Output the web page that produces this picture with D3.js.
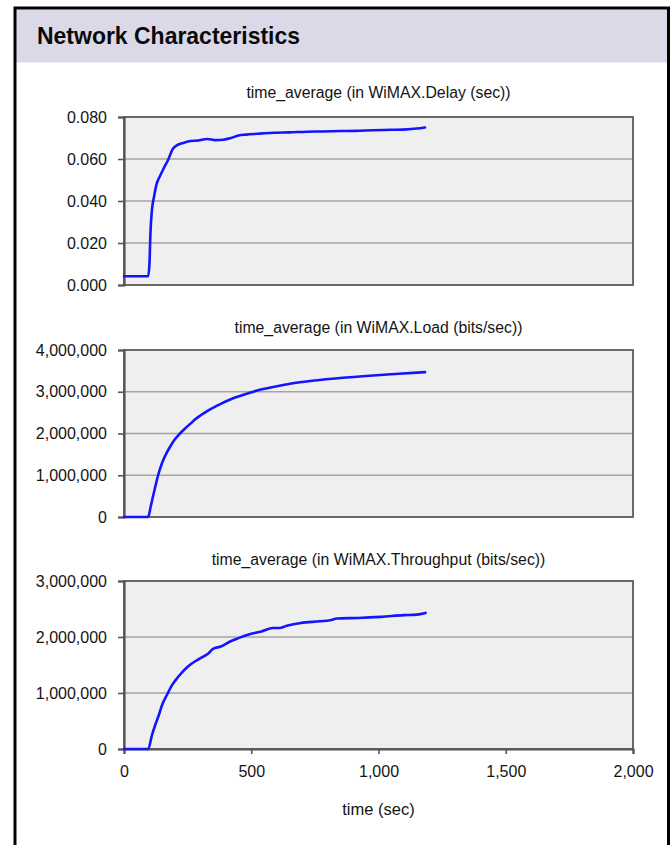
<!DOCTYPE html>
<html>
<head>
<meta charset="utf-8">
<script src="https://cdn.jsdelivr.net/npm/d3@7"></script>
<style>
  html, body { margin: 0; padding: 0; background: #ffffff; }
  svg { display: block; }
</style>
</head>
<body>
<svg id="chart" width="671" height="845"></svg>
<script>
// Simulation time axis (seconds)
const timeTicks = [0, 500, 1000, 1500, 2000];

// WiMAX delay, time-averaged (sec) : [time, value]
const delaySeries = [
  [0, 0.0042], [95, 0.0042], [100, 0.010], [104, 0.025], [110, 0.036],
  [118, 0.042], [128, 0.048], [142, 0.052], [158, 0.056], [175, 0.060],
  [190, 0.0645], [205, 0.0663], [232, 0.0676], [262, 0.0686], [292, 0.0688],
  [326, 0.0695], [360, 0.0690], [390, 0.0692], [420, 0.0700], [450, 0.0712],
  [480, 0.0716], [523, 0.0720], [585, 0.0725], [650, 0.0727], [719, 0.0730],
  [780, 0.0731], [849, 0.0733], [910, 0.0734], [978, 0.0737], [1050, 0.0739],
  [1112, 0.0741], [1150, 0.0745], [1183, 0.0750]
];
const delayTicks = [0, 0.02, 0.04, 0.06, 0.08];

// WiMAX load, time-averaged (bits/sec)
const loadSeries = [
  [0, 0], [95, 0], [105, 250000], [115, 520000], [125, 780000], [134, 1000000],
  [150, 1300000], [168, 1540000], [180, 1670000], [200, 1860000], [220, 2000000],
  [240, 2120000], [260, 2230000], [280, 2340000], [300, 2430000], [330, 2550000],
  [364, 2660000], [420, 2820000], [482, 2950000], [523, 3030000], [600, 3130000],
  [652, 3190000], [750, 3270000], [849, 3330000], [978, 3390000], [1080, 3430000],
  [1183, 3470000]
];
const loadTicks = [0, 1000000, 2000000, 3000000, 4000000];

// WiMAX throughput, time-averaged (bits/sec)
const throughputSeries = [
  [0, 0], [95, 0], [110, 250000], [122, 420000], [135, 580000], [150, 790000],
  [168, 960000], [190, 1150000], [213, 1290000], [250, 1470000], [299, 1620000],
  [330, 1700000], [350, 1790000], [380, 1830000], [417, 1920000], [450, 1980000],
  [487, 2040000], [540, 2100000], [585, 2160000], [610, 2160000], [640, 2200000],
  [695, 2250000], [770, 2280000], [810, 2300000], [837, 2330000], [920, 2340000],
  [1010, 2360000], [1100, 2390000], [1150, 2400000], [1185, 2430000]
];
const throughputTicks = [0, 1000000, 2000000, 3000000];

const panelTitles = [
  "time_average (in WiMAX.Delay (sec))",
  "time_average (in WiMAX.Load (bits/sec))",
  "time_average (in WiMAX.Throughput (bits/sec))"
];
const headerTitle = "Network Characteristics";
const xAxisTitle = "time (sec)";

const svg = d3.select("#chart");

// Outer frame and header band
svg.append("rect").attr("x", 15).attr("y", 9.5).attr("width", 652.5).attr("height", 53)
  .attr("fill", "#dbd9e8");
svg.append("path")
  .attr("d", "M15,850 L15,8 L668.5,8 L668.5,850")
  .attr("fill", "none").attr("stroke", "#000").attr("stroke-width", 3);
svg.append("text")
  .attr("x", 37).attr("y", 44)
  .attr("font-family", "'Liberation Sans', Arial, sans-serif")
  .attr("font-weight", "bold").attr("font-size", 24)
  .attr("textLength", 263).attr("lengthAdjust", "spacingAndGlyphs")
  .attr("fill", "#0a0a0a")
  .text(headerTitle);

const x = d3.scaleLinear().domain([0, 2000]).range([124, 633]);

const panels = [
  { series: delaySeries, ticks: delayTicks, fmt: d3.format(".3f"), max: 0.08, top: 117, bottom: 285, title: panelTitles[0], titleY: 98 },
  { series: loadSeries, ticks: loadTicks, fmt: d3.format(","), max: 4000000, top: 350, bottom: 517, title: panelTitles[1], titleY: 333 },
  { series: throughputSeries, ticks: throughputTicks, fmt: d3.format(","), max: 3000000, top: 581, bottom: 749, title: panelTitles[2], titleY: 565 }
];

const tickFont = "'Liberation Sans', Arial, sans-serif";
const textColor = "#141414";

panels.forEach((p, i) => {
  const y = d3.scaleLinear().domain([0, p.max]).range([p.bottom, p.top]);
  const g = svg.append("g");

  // plot background
  g.append("rect").attr("x", x.range()[0]).attr("y", p.top)
    .attr("width", x.range()[1] - x.range()[0]).attr("height", p.bottom - p.top)
    .attr("fill", "#efefef");

  // horizontal gridlines
  g.selectAll("line.grid").data(p.ticks.slice(1, -1)).join("line")
    .attr("x1", x.range()[0]).attr("x2", x.range()[1])
    .attr("y1", d => y(d)).attr("y2", d => y(d))
    .attr("stroke", "#a4a4a4").attr("stroke-width", 1.6);

  // plot frame
  g.append("rect").attr("x", x.range()[0]).attr("y", p.top)
    .attr("width", x.range()[1] - x.range()[0]).attr("height", p.bottom - p.top)
    .attr("fill", "none").attr("stroke", "#5a5a5a").attr("stroke-width", 1.8);

  // y axis
  const yAxis = d3.axisLeft(y).tickValues(p.ticks).tickFormat(p.fmt).tickSize(6).tickPadding(11);
  const ya = g.append("g").attr("transform", `translate(${x.range()[0]},0)`).call(yAxis);
  ya.select(".domain").attr("stroke", "#555").attr("stroke-width", 2.2);
  ya.selectAll(".tick line").attr("stroke", "#555").attr("stroke-width", 1.6);
  ya.selectAll(".tick text").attr("font-family", tickFont).attr("font-size", 16)
    .attr("fill", textColor);

  // x axis only on the bottom panel
  if (i === panels.length - 1) {
    const xAxis = d3.axisBottom(x).tickValues(timeTicks).tickFormat(d3.format(",")).tickSize(5).tickPadding(12);
    const xa = g.append("g").attr("transform", `translate(0,${p.bottom})`).call(xAxis);
    xa.select(".domain").attr("stroke", "#555").attr("stroke-width", 2.2);
    xa.selectAll(".tick line").attr("stroke", "#555").attr("stroke-width", 1.6);
    xa.selectAll(".tick text").attr("font-family", tickFont).attr("font-size", 16)
      .attr("fill", textColor);
    svg.append("text").attr("x", 378.5).attr("y", 815)
      .attr("text-anchor", "middle").attr("font-family", tickFont).attr("font-size", 16.5)
      .attr("fill", textColor).text(xAxisTitle);
  }

  // title
  g.append("text").attr("x", 378.5).attr("y", p.titleY)
    .attr("text-anchor", "middle").attr("font-family", tickFont).attr("font-size", 15.8)
    .attr("fill", textColor).text(p.title);

  // series line
  const line = d3.line().x(d => x(d[0])).y(d => y(d[1])).curve(d3.curveMonotoneX);
  g.append("path").datum(p.series).attr("d", line)
    .attr("fill", "none").attr("stroke", "#1414ff").attr("stroke-width", 2.6)
    .attr("stroke-linejoin", "round").attr("stroke-linecap", "round");
});
</script>
</body>
</html>
